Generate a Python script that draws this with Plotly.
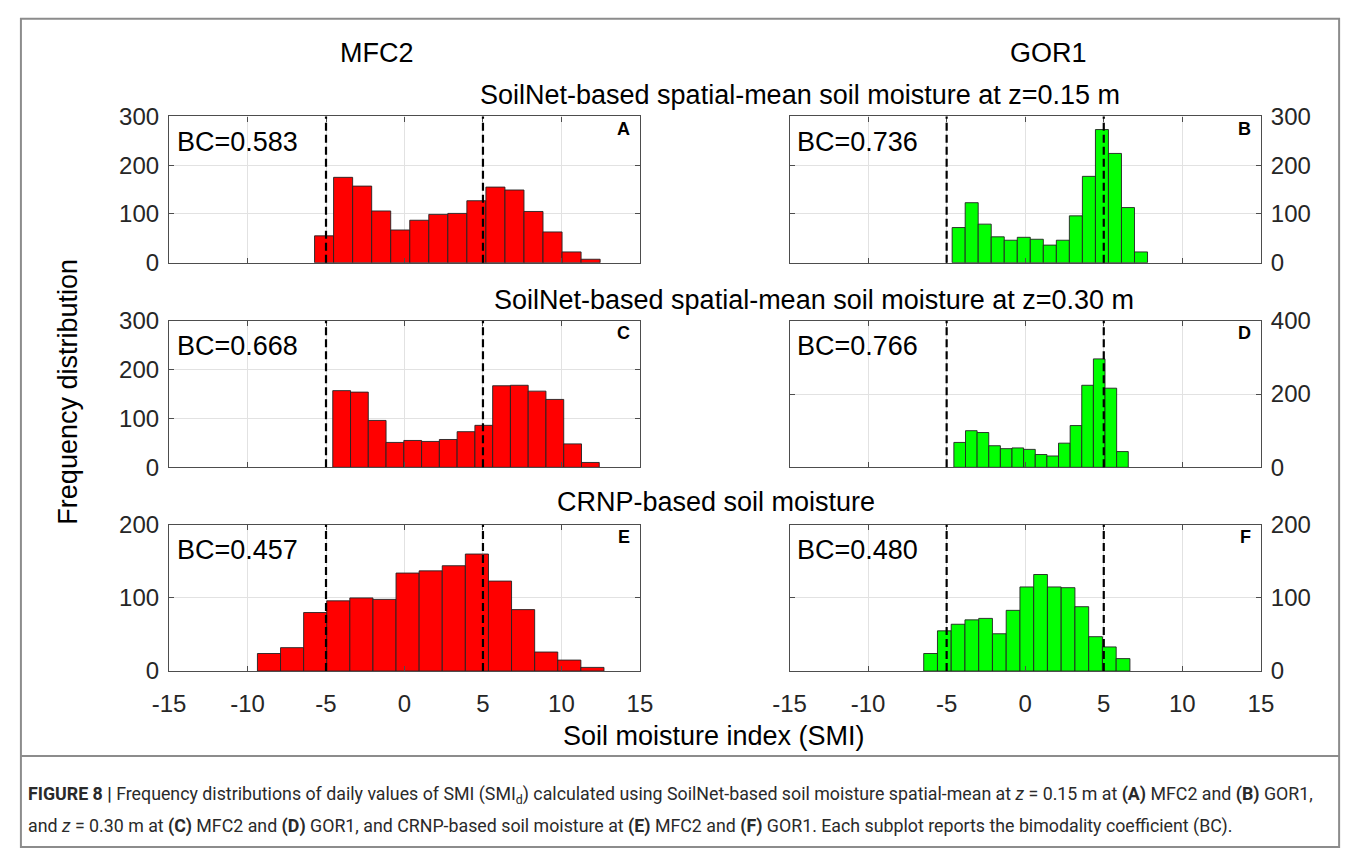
import numpy as np
import plotly.graph_objects as go

W, H = 1357, 862

# ---------------- data ----------------
sites = ["MFC2", "GOR1"]
row_titles = [
    "SoilNet-based spatial-mean soil moisture at z=0.15 m",
    "SoilNet-based spatial-mean soil moisture at z=0.30 m",
    "CRNP-based soil moisture",
]
panel_letters = ["A", "B", "C", "D", "E", "F"]
bc_values = ["0.583", "0.736", "0.668", "0.766", "0.457", "0.480"]

# histogram bins: first edge, bin width, counts
A_first_edge, A_bin_width = -5.73, 1.213
A_counts = [55, 175, 157, 106, 67, 87, 99, 101, 127, 155, 149, 105, 63, 22, 7]

B_first_edge, B_bin_width = -4.65, 0.829
B_counts = [72, 123, 79, 53, 46, 52, 48, 36, 46, 96, 177, 273, 224, 113, 22]

C_first_edge, C_bin_width = -4.57, 1.132
C_counts = [157, 154, 96, 51, 55, 53, 57, 73, 86, 167, 168, 156, 139, 48, 10]

D_first_edge, D_bin_width = -4.54, 0.740
D_counts = [68, 100, 95, 59, 51, 53, 49, 35, 31, 66, 114, 224, 296, 216, 43]

E_first_edge, E_bin_width = -9.37, 1.472
E_counts = [24, 32, 80, 96, 100, 98, 134, 137, 144, 160, 123, 84, 26, 15, 5]

F_first_edge, F_bin_width = -6.46, 0.875
F_counts = [24, 55, 64, 70, 72, 51, 83, 115, 132, 115, 114, 88, 47, 33, 17]

thresholds = [-5, 5]
x_ticks = [-15, -10, -5, 0, 5, 10, 15]
y_ranges = [300, 300, 300, 400, 200, 200]
y_ticks = [
    [0, 100, 200, 300],
    [0, 100, 200, 300],
    [0, 100, 200, 300],
    [0, 200, 400],
    [0, 100, 200],
    [0, 100, 200],
]

hist = [
    (A_first_edge, A_bin_width, A_counts),
    (B_first_edge, B_bin_width, B_counts),
    (C_first_edge, C_bin_width, C_counts),
    (D_first_edge, D_bin_width, D_counts),
    (E_first_edge, E_bin_width, E_counts),
    (F_first_edge, F_bin_width, F_counts),
]

# ---------------- layout geometry (pixels) ----------------
col_px = [(155.5, 637.0), (790.0, 1272.0)]
row_px = [(105.7, 256.7), (316.7, 468.0), (527.3, 678.3)]


def px(x):
    return x / W


def py(y):
    return 1 - y / H


RED = "#FF0000"
GREEN = "#00FF00"
TXT = "#1a1a1a"
AX = "#4d4d4d"
GRID = "#e2e2e2"
FONT = "Liberation Sans, Arial, Helvetica, sans-serif"
BIG = 27
TICK = 24

fig = go.Figure()
layout = dict(
    width=W, height=H, margin=dict(l=0, r=0, t=0, b=0),
    paper_bgcolor="white", plot_bgcolor="white",
    showlegend=False, font=dict(family=FONT, color=TXT),
)
shapes = []
annotations = []

for i in range(6):
    n = i + 1
    row, col = divmod(i, 2)
    xa = "x" if n == 1 else f"x{n}"
    ya = "y" if n == 1 else f"y{n}"
    first, bw, counts = hist[i]
    counts = np.asarray(counts, dtype=float)
    centers = first + bw * (np.arange(len(counts)) + 0.5)
    fig.add_trace(go.Bar(
        x=centers, y=counts, width=bw, xaxis=xa, yaxis=ya,
        marker=dict(color=RED if col == 0 else GREEN,
                    line=dict(color="#222222", width=0.9)),
        hoverinfo="skip",
    ))
    x0, x1 = col_px[col]
    y0, y1 = row_px[row]
    layout["xaxis" if n == 1 else f"xaxis{n}"] = dict(
        domain=[px(x0), px(x1)], range=[-15, 15], anchor=ya,
        tickvals=x_ticks, ticktext=[str(v) for v in x_ticks],
        showticklabels=(row == 2), ticks="inside", ticklen=5, tickcolor=AX,
        ticklabelstandoff=11,
        showline=True, linecolor=AX, linewidth=1.3, mirror="ticks",
        showgrid=True, gridcolor=GRID, gridwidth=1, zeroline=False,
        tickfont=dict(size=TICK, color="#262626", family=FONT), fixedrange=True,
    )
    layout["yaxis" if n == 1 else f"yaxis{n}"] = dict(
        domain=[py(y1), py(y0)], range=[0, y_ranges[i]], anchor=xa,
        tickvals=y_ticks[i], side="left" if col == 0 else "right",
        ticks="inside", ticklen=5, tickcolor=AX, ticklabelstandoff=4,
        showline=True, linecolor=AX, linewidth=1.3, mirror="ticks",
        showgrid=True, gridcolor=GRID, gridwidth=1, zeroline=False,
        tickfont=dict(size=TICK, color="#262626", family=FONT), fixedrange=True,
    )
    for t in thresholds:
        shapes.append(dict(type="line", xref=xa, yref=f"{ya} domain",
                           x0=t, x1=t, y0=0, y1=1, layer="above",
                           line=dict(color="black", width=2.2, dash="8px,4px")))
    # BC annotation
    annotations.append(dict(
        xref="paper", yref="paper", x=px(x0 + 6), y=py(y0 + 26),
        xanchor="left", yanchor="middle", showarrow=False,
        text=f"BC={bc_values[i]}", font=dict(size=BIG, color="black", family=FONT)))
    # panel letter
    annotations.append(dict(
        xref="paper", yref="paper", x=px(x1 - 8), y=py(y0 + 13),
        xanchor="right", yanchor="middle", showarrow=False,
        text=f"<b>{panel_letters[i]}</b>", font=dict(size=18, color="black", family=FONT)))

# column titles
for c, name in enumerate(sites):
    cx = [368, 1055][c]
    annotations.append(dict(xref="paper", yref="paper", x=px(cx), y=py(40),
                            xanchor="center", yanchor="middle", showarrow=False,
                            text=name, font=dict(size=BIG, color="black", family=FONT)))
# row titles
row_title_pos = [(801, 84), (815, 295), (715, 504)]
for r, t in enumerate(row_titles):
    cx, cy = row_title_pos[r]
    annotations.append(dict(xref="paper", yref="paper", x=px(cx), y=py(cy),
                            xanchor="center", yanchor="middle", showarrow=False,
                            text=t, font=dict(size=BIG, color="black", family=FONT)))

# axis titles
annotations.append(dict(xref="paper", yref="paper", x=px(713), y=py(745),
                        xanchor="center", yanchor="middle", showarrow=False,
                        text="Soil moisture index (SMI)",
                        font=dict(size=BIG, color="black", family=FONT)))
annotations.append(dict(xref="paper", yref="paper", x=px(52), y=py(390),
                        xanchor="center", yanchor="middle", showarrow=False, textangle=-90,
                        text="Frequency distribution",
                        font=dict(size=BIG, color="black", family=FONT)))

# caption
CAP = "Liberation Sans Narrow, Roboto, Liberation Sans, sans-serif"
cap1 = ("<b>FIGURE 8 |</b> Frequency distributions of daily values of SMI (SMI<sub>d</sub>) "
        "calculated using SoilNet-based soil moisture spatial-mean at <i>z</i> = 0.15 m at "
        "<b>(A)</b> MFC2 and <b>(B)</b> GOR1,")
cap2 = ("and <i>z</i> = 0.30 m at <b>(C)</b> MFC2 and <b>(D)</b> GOR1, and CRNP-based soil "
        "moisture at <b>(E)</b> MFC2 and <b>(F)</b> GOR1. Each subplot reports the bimodality "
        "coefficient (BC).")
for txt, yy in [(cap1, 806), (cap2, 838)]:
    annotations.append(dict(xref="paper", yref="paper", x=px(9), y=py(yy),
                            xanchor="left", yanchor="middle", showarrow=False,
                            text=txt, font=dict(size=17.8, color="#2a2a2a", family=CAP)))

# outer frame and separator
shapes.append(dict(type="rect", xref="paper", yref="paper", x0=px(4), x1=px(1352),
                   y0=py(860), y1=py(5), line=dict(color="#8c8c8c", width=2),
                   fillcolor="rgba(0,0,0,0)", layer="below"))
shapes.append(dict(type="line", xref="paper", yref="paper", x0=px(4), x1=px(1352),
                   y0=py(766), y1=py(766), line=dict(color="#8c8c8c", width=2)))

layout["shapes"] = shapes
layout["annotations"] = annotations
fig.update_layout(**layout)
fig.write_html("out.html")
